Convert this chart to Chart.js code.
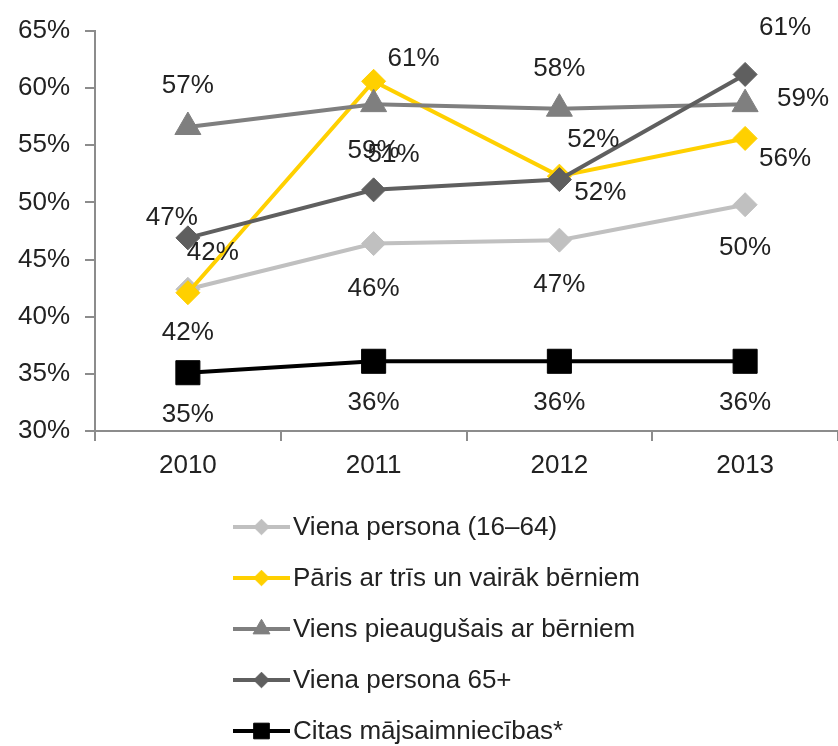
<!DOCTYPE html>
<html lang="lv">
<head>
<meta charset="utf-8">
<script src="https://cdn.jsdelivr.net/npm/chart.js@4/dist/chart.umd.min.js"></script>
<style>
  html, body { margin: 0; padding: 0; background: #fff; }
  #wrap { width: 838px; height: 746px; }
</style>
</head>
<body>
<div id="wrap"><canvas id="chart" width="838" height="746"></canvas></div>
<script>
// dati
const years = ['2010', '2011', '2012', '2013'];
const vienaPersona = [42.4, 46.4, 46.7, 49.8];
const parisTrisBerni = [42.1, 60.6, 52.3, 55.6];
const viensPieaugusais = [56.6, 58.6, 58.2, 58.6];
const vienaPersona65 = [46.9, 51.1, 52.0, 61.2];
const citasMajsaimniecibas = [35.1, 36.1, 36.1, 36.1];
const yTicks = [30, 35, 40, 45, 50, 55, 60, 65];

const seriesNames = [
  'Viena persona (16–64)',
  'Pāris ar trīs un vairāk bērniem',
  'Viens pieaugušais ar bērniem',
  'Viena persona 65+',
  'Citas mājsaimniecības*'
];

// datu etiķešu nobīdes (px) katram punktam
const labelOffsets = [
  [[0, 44], [0, 45], [0, 45], [0, 43]],
  [[25, -40], [40, -22], [34, -36], [40, 20]],
  [[0, -41], [0, 47], [0, -40], [58, -5]],
  [[-16, -20], [20, -35], [41, 13], [40, -47]],
  [[0, 42], [0, 42], [0, 42], [0, 42]]
];

const FONT = '"Liberation Sans", Arial, sans-serif';
const TEXT = '#222';
const AXIS = '#8c8c8c';

function makeSet(label, data, color, style, radius, order) {
  return {
    label: label,
    data: data,
    borderColor: color,
    backgroundColor: color,
    borderWidth: 4,
    pointStyle: style,
    pointRadius: radius,
    pointHoverRadius: radius,
    pointBorderWidth: 1,
    tension: 0,
    order: order,
    clip: false
  };
}

const datasets = [
  makeSet(seriesNames[0], vienaPersona, '#c0c0c0', 'rectRot', 12, 5),
  makeSet(seriesNames[1], parisTrisBerni, '#ffd000', 'rectRot', 12, 4),
  makeSet(seriesNames[2], viensPieaugusais, '#7f7f7f', 'triangle', 15, 3),
  makeSet(seriesNames[3], vienaPersona65, '#5f5f5f', 'rectRot', 12, 2),
  makeSet(seriesNames[4], citasMajsaimniecibas, '#000000', 'rect', 17, 1)
];

// datu etiķetes
const dataLabels = {
  id: 'dataLabels',
  afterDatasetsDraw(chart) {
    const ctx = chart.ctx;
    ctx.save();
    ctx.font = '26px ' + FONT;
    ctx.fillStyle = TEXT;
    ctx.textAlign = 'center';
    ctx.textBaseline = 'middle';
    chart.data.datasets.forEach((ds, i) => {
      const meta = chart.getDatasetMeta(i);
      meta.data.forEach((pt, j) => {
        const off = labelOffsets[i][j];
        ctx.fillText(Math.round(ds.data[j]) + '%', pt.x + off[0], pt.y + off[1]);
      });
    });
    ctx.restore();
  }
};

// leģenda zem grafika
const listLegend = {
  id: 'listLegend',
  afterDraw(chart) {
    const ctx = chart.ctx;
    const x0 = 233, x1 = 290, top = 527, step = 51;
    ctx.save();
    chart.data.datasets.forEach((ds, i) => {
      const y = top + i * step;
      ctx.strokeStyle = ds.borderColor;
      ctx.lineWidth = ds.borderWidth;
      ctx.beginPath();
      ctx.moveTo(x0, y);
      ctx.lineTo(x1, y);
      ctx.stroke();
      ctx.fillStyle = ds.backgroundColor;
      ctx.lineWidth = 1;
      Chart.helpers.drawPoint(ctx, {
        pointStyle: ds.pointStyle,
        radius: ds.pointRadius * 0.65,
        rotation: 0,
        borderWidth: 1
      }, (x0 + x1) / 2, y);
      ctx.font = '26px ' + FONT;
      ctx.fillStyle = TEXT;
      ctx.textAlign = 'left';
      ctx.textBaseline = 'middle';
      ctx.fillText(ds.label, 293, y + 1);
    });
    ctx.restore();
  }
};

new Chart(document.getElementById('chart'), {
  type: 'line',
  data: { labels: years, datasets: datasets },
  plugins: [dataLabels, listLegend],
  options: {
    responsive: false,
    animation: false,
    layout: { autoPadding: false, padding: { top: 31, right: 0, bottom: 255, left: 0 } },
    plugins: {
      legend: { display: false },
      tooltip: { enabled: false }
    },
    scales: {
      x: {
        offset: true,
        afterFit(scale) {
          scale.height = 60;
          scale.paddingLeft = 0;
          scale.paddingRight = 0;
        },
        grid: {
          offset: true,
          drawOnChartArea: false,
          tickLength: 10,
          color: AXIS,
          lineWidth: 2
        },
        border: { color: AXIS, width: 2 },
        ticks: {
          padding: 9,
          color: TEXT,
          font: { family: FONT, size: 26 }
        }
      },
      y: {
        min: yTicks[0],
        max: yTicks[yTicks.length - 1],
        afterFit(scale) { scale.width = 95; },
        afterBuildTicks(scale) { scale.ticks = yTicks.map(v => ({ value: v })); },
        grid: {
          drawOnChartArea: false,
          tickLength: 10,
          color: AXIS,
          lineWidth: 2
        },
        border: { color: AXIS, width: 2 },
        ticks: {
          padding: 15,
          color: TEXT,
          font: { family: FONT, size: 26 },
          callback: v => v + '%'
        }
      }
    }
  }
});
</script>
</body>
</html>
